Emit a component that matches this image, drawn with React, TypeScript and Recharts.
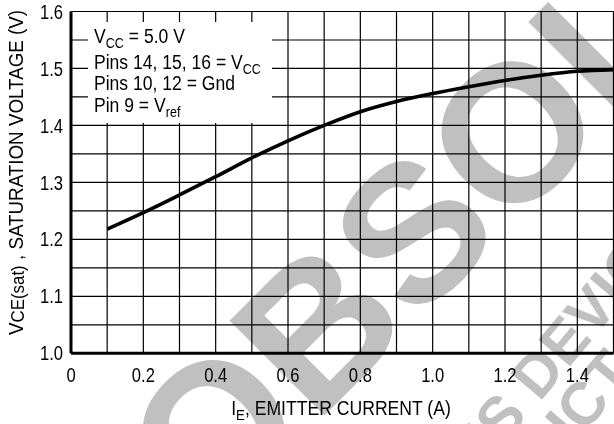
import React from "react";
import { LineChart, Line, XAxis, YAxis, CartesianGrid, Label } from "recharts";

// emitter current (A) and saturation voltage (V)
const current = [0.1, 0.2, 0.3, 0.4, 0.5, 0.6, 0.7, 0.8, 0.9, 1.0, 1.1, 1.2, 1.3, 1.4, 1.5];
const vceSat = [1.218, 1.247, 1.278, 1.31, 1.343, 1.373, 1.4, 1.424, 1.442, 1.456, 1.468, 1.479, 1.488, 1.495, 1.498];

const xTicks = [0, 0.1, 0.2, 0.3, 0.4, 0.5, 0.6, 0.7, 0.8, 0.9, 1.0, 1.1, 1.2, 1.3, 1.4, 1.5];
const xTickLabels = ["0", "", "0.2", "", "0.4", "", "0.6", "", "0.8", "", "1.0", "", "1.2", "", "1.4", ""];
const yTicks = [1.0, 1.05, 1.1, 1.15, 1.2, 1.25, 1.3, 1.35, 1.4, 1.45, 1.5, 1.55, 1.6];
const yTickLabels = ["1.0", "", "1.1", "", "1.2", "", "1.3", "", "1.4", "", "1.5", "", "1.6"];

const data = current.map((x, i) => ({ x, v: vceSat[i] }));

// no narrow helvetica around, so squeeze Liberation Sans a bit
const FONT = '"Liberation Sans", Arial, sans-serif';
const WM = "#c0c0c0";

const label = (ticks: number[], labels: string[], v: number) => {
  const i = ticks.findIndex((t) => Math.abs(t - v) < 1e-6);
  return i >= 0 ? labels[i] : "";
};

function XTick({ x, y, payload }: any) {
  return (
    <text transform={`translate(${x},${y}) scale(0.83,1)`} textAnchor="middle" dy="0.71em" fontFamily={FONT} fontSize={20} fill="#000">
      {label(xTicks, xTickLabels, payload.value)}
    </text>
  );
}

function YTick({ x, y, payload }: any) {
  return (
    <text transform={`translate(${x},${y}) scale(0.83,1)`} textAnchor="end" dy="0.355em" fontFamily={FONT} fontSize={20} fill="#000">
      {label(yTicks, yTickLabels, payload.value)}
    </text>
  );
}

// "obsolete" stamp laid over the chart with multiply, so black lines stay black through it
function Watermark() {
  return (
    <svg
      width={614}
      height={424}
      style={{ position: "absolute", left: 0, top: 0, zIndex: 3, mixBlendMode: "multiply", pointerEvents: "none" }}
    >
      <g fill={WM} fontFamily={FONT} fontWeight="bold">
        <text x={208} y={532} fontSize={195} transform="rotate(-45 208 532)">
          OBSOLETE
        </text>
        <text x={441} y={520} fontSize={60} transform="rotate(-50 441 520)">
          THIS DEVICE IS NO LONGER
        </text>
        <text x={445} y={600} fontSize={60} transform="rotate(-50 445 600)">
          PRODUCT
        </text>
      </g>
    </svg>
  );
}

function Conditions() {
  const sub = { fontSize: 14 };
  return (
    <svg width={614} height={424} style={{ position: "absolute", left: 0, top: 0, zIndex: 2, pointerEvents: "none" }}>
      <rect x={88} y={22} width={184} height={101} fill="#fff" />
      <g fontFamily={FONT} fontSize={19.5} fill="#000" transform="translate(94,0) scale(0.9,1)">
        <text x={0} y={43}>
          V<tspan dy={5} {...sub}>CC</tspan>
          <tspan dy={-5}> = 5.0 V</tspan>
        </text>
        <text x={0} y={69}>
          Pins 14, 15, 16 = V<tspan dy={5} {...sub}>CC</tspan>
        </text>
        <text x={0} y={90}>Pins 10, 12 = Gnd</text>
        <text x={0} y={112}>
          Pin 9 = V<tspan dy={5} {...sub}>ref</tspan>
        </text>
      </g>
    </svg>
  );
}

export default function App() {
  return (
    <div style={{ position: "absolute", left: 0, top: 0, width: 614, height: 424, background: "#fff" }}>
      <div style={{ position: "absolute", left: 0, top: 0, zIndex: 1 }}>
        <LineChart width={614} height={424} data={data} margin={{ top: 11.5, right: 0.5, left: 11, bottom: 40.7 }}>
          <CartesianGrid stroke="#000" strokeWidth={1.2} fill="none" />
          <XAxis
            type="number"
            dataKey="x"
            domain={[0, 1.5]}
            ticks={xTicks}
            interval={0}
            tickLine={false}
            tickSize={6}
            tickMargin={8}
            height={30}
            tick={<XTick />}
            axisLine={{ stroke: "#000", strokeWidth: 3 }}
          >
            <Label
              content={() => (
                <text
                  transform="translate(341,415) scale(0.88,1)"
                  textAnchor="middle"
                  fontFamily={FONT}
                  fontSize={20}
                  fill="#000"
                >
                  I<tspan dy={5} fontSize={15}>E</tspan>
                  <tspan dy={-5}>, EMITTER CURRENT (A)</tspan>
                </text>
              )}
            />
          </XAxis>
          <YAxis
            type="number"
            domain={[1.0, 1.6]}
            ticks={yTicks}
            interval={0}
            tickLine={false}
            width={60}
            tick={<YTick />}
            axisLine={{ stroke: "#000", strokeWidth: 3 }}
          >
            <Label
              content={() => (
                <text
                  transform="translate(16,172.5) rotate(-90) scale(0.94,1)"
                  textAnchor="middle"
                  dominantBaseline="central"
                  fontFamily={FONT}
                  fontSize={20}
                  fill="#000"
                >
                  V<tspan fontSize={18} dy={2}>CE(sat)</tspan>
                  <tspan dy={-2}> , SATURATION VOLTAGE (V)</tspan>
                </text>
              )}
            />
          </YAxis>
          <Line type="monotone" dataKey="v" stroke="#000" strokeWidth={3.6} dot={false} isAnimationActive={false} />
        </LineChart>
      </div>
      <Conditions />
      <Watermark />
    </div>
  );
}
